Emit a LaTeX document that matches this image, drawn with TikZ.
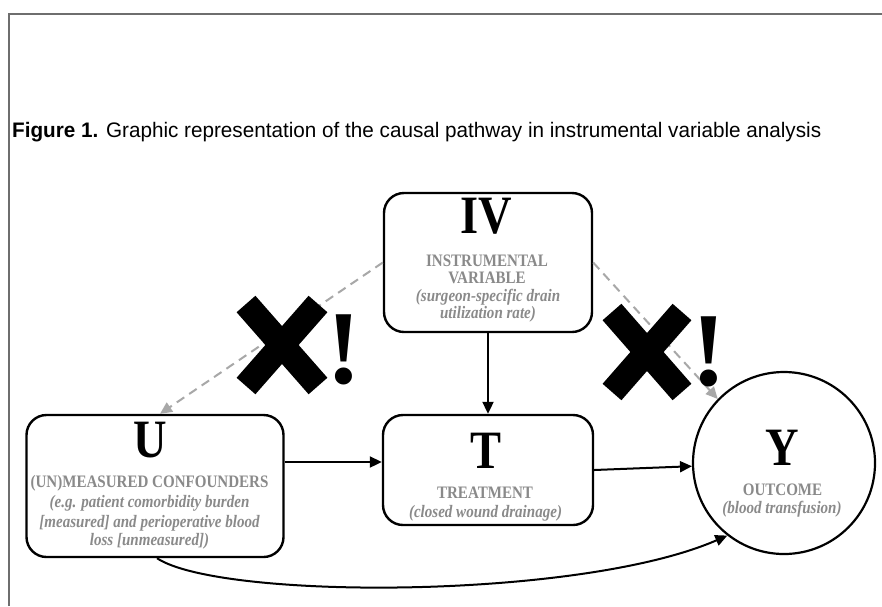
\documentclass[tikz,border=0pt]{standalone}
\usepackage{fontspec}
\setmainfont{Liberation Serif}
\newfontfamily\condserif[FakeStretch=0.86]{Liberation Serif}
\newfontfamily\condsans[FakeStretch=0.985]{Liberation Sans}
\usetikzlibrary{arrows.meta}
\definecolor{txtgray}{HTML}{8A8A8A}
\definecolor{dashgray}{HTML}{A8A8A8}
\definecolor{framegray}{HTML}{6E6E6E}
\tikzset{
  box/.style={draw, line width=2.4pt, rounded corners=20pt, inner sep=0pt},
  bigletter/.style={anchor=base, inner sep=0pt, font=\condserif\bfseries\fontsize{54}{54}\selectfont},
  sub/.style={anchor=base, inner sep=0pt, text=txtgray, font=\condserif\bfseries\fontsize{17.5}{18}\selectfont},
  subit/.style={anchor=base, inner sep=0pt, text=txtgray, font=\condserif\bfseries\itshape\fontsize{17.5}{18}\selectfont},
  arr/.style={line width=2pt, -{Triangle[length=12pt,width=11pt]}},
  darr/.style={line width=2pt, draw=dashgray, dash pattern=on 9pt off 6pt, -{Triangle[length=12pt,width=11pt,fill=dashgray]}},
  xbar/.style={line width=25pt, line cap=butt},
  excl/.style={anchor=base, inner sep=0pt, font=\bfseries\fontsize{105}{105}\selectfont}
}
\begin{document}
\begin{tikzpicture}[x=1pt,y=-1pt]
\useasboundingbox (0,0) rectangle (882,606);
\fill[white] (0,0) rectangle (882,606);
% frame
\draw[framegray, line width=2.5pt] (9,606) -- (9,14) -- (882,14);
% title
\node[anchor=base west, inner sep=0pt] (title) at (12,137)
  {\condsans\fontsize{21}{21}\selectfont\textbf{Figure 1.} Graphic representation of the causal pathway in instrumental variable analysis};

% boxes
\node[box, minimum width=208pt, minimum height=139pt] (IV) at (488,262.5) {};
\node[box, minimum width=257pt, minimum height=142pt] (U) at (155,486) {};
\node[box, minimum width=210pt, minimum height=110pt] (T) at (488,470) {};
\node[draw, circle, line width=2.2pt, minimum size=182pt, inner sep=0pt] (Y) at (784,463) {};

% IV texts
\node[bigletter] (ivL) at (486,233) {IV};
\node[sub] (iv1) at (487,266) {INSTRUMENTAL};
\node[sub] (iv2) at (487,283) {VARIABLE};
\node[subit] (iv3) at (488,301) {(surgeon-specific drain};
\node[subit] (iv4) at (488,318) {utilization rate)};

% U texts
\node[bigletter] (uL) at (150,457) {U};
\node[sub] (u1) at (149.5,487) {(UN)MEASURED CONFOUNDERS};
\node[subit] (u2) at (149.5,507) {(e.g. patient comorbidity burden};
\node[subit] (u3) at (149.5,527) {[measured] and perioperative blood};
\node[subit] (u4) at (149.5,545) {loss [unmeasured])};

% T texts
\node[bigletter] (tL) at (486,468) {T};
\node[sub] (t1) at (485,498) {TREATMENT};
\node[subit] (t2) at (485.5,517) {(closed wound drainage)};

% Y texts
\node[bigletter] (yL) at (782.5,465) {Y};
\node[sub] (y1) at (782.5,495) {OUTCOME};
\node[subit] (y2) at (782,513) {(blood transfusion)};

% connectors
\coordinate (ut) at (0,462);
\draw[arr] (IV.south) -- (T.north);
\draw[arr] (U.east |- ut) -- (T.west |- ut);
\draw[arr] (T.east) -- (Y.182);
\draw[arr] ([xshift=2pt]U.south) .. controls (220,600) and (580,600) .. (Y.-128);

% dashed (forbidden) paths
\draw[darr] (IV.west) -- ([xshift=5pt]U.north);
\draw[darr] (IV.east) -- (Y.136);

% X marks
\draw[xbar] (246,304) -- (318,386);
\draw[xbar] (246,386) -- (318,304);
\draw[xbar] (612,312) -- (682,392);
\draw[xbar] (612,392) -- (682,312);
\node[excl] (ex1) at (343.5,383) {!};
\node[excl] (ex2) at (709,385) {!};
\end{tikzpicture}
\end{document}
